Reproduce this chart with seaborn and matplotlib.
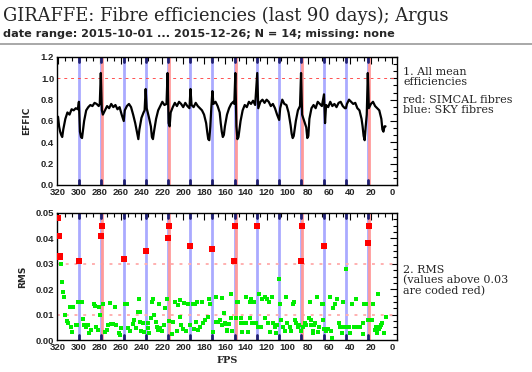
import matplotlib
matplotlib.use("Agg")
import numpy as np
import pandas as pd
import matplotlib.pyplot as plt
import seaborn as sns
from matplotlib.ticker import MultipleLocator, AutoMinorLocator
from matplotlib.lines import Line2D

# fibre positions of sky and simcal fibres
sky_fps = [300, 279, 257, 236, 215, 193, 172, 150, 129, 108, 87, 65, 44, 23]
simcal_fps = [278, 214, 149, 86, 22]

# mean efficiency per fibre position
effic_fps = [320, 319, 318, 317, 316, 315, 313, 311, 309, 307, 305, 303, 301, 300, 299, 298, 297,
             295, 293, 291, 289, 287, 285, 283, 281, 280, 279, 278, 277, 275, 273, 271, 269, 267,
             265, 263, 261, 259, 257, 256, 254, 252, 250, 248, 246, 244, 243, 242, 240, 238, 237,
             236, 235, 233, 231, 230, 229, 228, 226, 224, 222, 220, 218, 216, 215, 214, 213, 212,
             210, 208, 206, 204, 202, 200, 198, 196, 194, 193, 192, 190, 188, 186, 184, 182, 180,
             178, 177, 176, 175, 174, 173, 172, 171, 169, 167, 165, 164, 163, 162, 161, 160, 158,
             156, 154, 152, 151, 150, 149, 148, 147, 145, 143, 141, 139, 137, 135, 133, 131, 129,
             128, 126, 124, 122, 120, 118, 116, 114, 112, 110, 108, 107, 105, 103, 101, 99, 97,
             96, 95, 94, 92, 90, 88, 87, 86, 84, 82, 81, 80, 79, 77, 75, 73, 71, 69, 67, 65, 64,
             63, 61, 59, 57, 55, 53, 51, 49, 47, 45, 44, 43, 41, 39, 37, 35, 33, 31, 29, 28, 27,
             26, 25, 24, 23, 22, 20, 18, 16, 14, 12, 10, 9, 8, 7, 6]
effic_vals = [0.64, 0.55, 0.50, 0.47, 0.45, 0.52, 0.62, 0.68, 0.66, 0.71, 0.70, 0.72, 0.71, 0.78,
              0.50, 0.45, 0.44, 0.60, 0.70, 0.73, 0.75, 0.74, 0.77, 0.76, 0.74, 0.76, 1.05, 0.70,
              0.66, 0.70, 0.74, 0.72, 0.76, 0.73, 0.75, 0.71, 0.73, 0.66, 0.60, 0.70, 0.74, 0.76,
              0.73, 0.66, 0.58, 0.48, 0.43, 0.52, 0.63, 0.68, 0.70, 0.90, 0.72, 0.64, 0.55, 0.45,
              0.43, 0.50, 0.62, 0.70, 0.74, 0.78, 0.75, 0.76, 1.05, 0.58, 0.55, 0.68, 0.73, 0.77,
              0.74, 0.78, 0.76, 0.73, 0.77, 0.74, 0.72, 0.90, 0.75, 0.73, 0.77, 0.74, 0.72, 0.70,
              0.66, 0.58, 0.50, 0.43, 0.42, 0.55, 0.73, 0.88, 0.76, 0.78, 0.74, 0.68, 0.58, 0.50,
              0.45, 0.47, 0.55, 0.66, 0.72, 0.76, 0.78, 0.76, 1.05, 0.55, 0.43, 0.45, 0.60, 0.70,
              0.75, 0.73, 0.78, 0.76, 0.79, 0.75, 1.05, 0.72, 0.78, 0.80, 0.77, 0.80, 0.78, 0.74,
              0.76, 0.72, 0.66, 0.61, 0.72, 0.80, 0.76, 0.75, 0.68, 0.56, 0.48, 0.44, 0.46, 0.60,
              0.70, 0.74, 1.05, 0.66, 0.60, 0.54, 0.44, 0.46, 0.62, 0.72, 0.75, 0.72, 0.78, 0.76,
              0.74, 0.85, 0.58, 0.75, 0.73, 0.78, 0.74, 0.76, 0.73, 0.77, 0.78, 0.74, 0.72, 0.72,
              0.76, 0.80, 0.78, 0.76, 0.77, 0.72, 0.70, 0.62, 0.55, 0.46, 0.42, 0.55, 0.66, 1.05,
              0.72, 0.76, 0.78, 0.74, 0.72, 0.70, 0.62, 0.52, 0.50, 0.55, 0.55]

# rms per fibre position
rms_fps = [320, 319, 318, 318, 317, 300, 279, 278, 257, 236, 215, 214, 193, 172, 151, 150, 129,
           87, 86, 65, 23, 22,
           316, 315, 314, 309, 306, 313, 311, 310, 308, 307, 303, 302, 301, 297, 296, 295, 293,
           291, 290, 288, 286, 285, 284, 282, 281, 280, 277, 275, 273, 272, 270, 269, 267, 265,
           262, 264, 260, 261, 256, 254, 253, 251, 248, 247, 245, 242, 243, 241, 240,
           241, 239, 238, 234, 234, 233, 230, 229, 228, 231, 226, 225, 224, 223, 222, 220, 218,
           217, 216, 214, 211, 210, 208, 206, 205, 203, 202, 203, 199, 200, 197, 195, 193, 191,
           190, 189, 187, 188, 186, 184, 182, 181, 179, 176, 175, 174, 171, 169, 169, 167, 165,
           163, 163, 161, 160, 158,
           154, 159, 158, 156, 154, 157, 153, 148, 147, 149, 145, 145, 144, 143, 140, 140, 138,
           136, 136, 135, 134, 132, 130, 127, 128, 125, 124, 122, 122, 120, 118, 119, 117, 115,
           114, 112, 111, 110, 108, 107, 106, 104, 102, 101, 100, 98, 97, 95, 94, 93, 92, 90,
           89, 87, 85, 83, 82, 79, 77, 76,
           72, 78, 67, 66, 77, 75, 76, 74, 71, 70, 66, 65, 63, 61, 59, 58, 57, 56, 54, 53, 51,
           50, 48, 47, 48, 44, 43, 41, 40, 38, 36, 34, 35, 31, 30, 28, 28, 27, 25, 23, 21, 20,
           19, 18, 16, 15, 14, 13, 12, 11, 10, 9, 7, 6, 44]
rms_vals = [0.048, 0.041, 0.033, 0.0325, 0.030, 0.031, 0.041, 0.045, 0.032, 0.035, 0.040, 0.045,
            0.037, 0.036, 0.031, 0.045, 0.045, 0.031, 0.045, 0.037, 0.038, 0.045,
            0.023, 0.019, 0.017, 0.013, 0.013, 0.010, 0.0076, 0.0068, 0.005, 0.0033, 0.0059,
            0.0059, 0.0148, 0.0148, 0.0083, 0.0059, 0.0052, 0.0059, 0.0026, 0.004, 0.0142,
            0.0134, 0.0052, 0.004, 0.013, 0.010, 0.014, 0.003, 0.004, 0.0059, 0.0144, 0.0063,
            0.0063, 0.013, 0.0026, 0.0059, 0.0046, 0.0018, 0.014, 0.014, 0.0049, 0.0035, 0.0062,
            0.0079, 0.0049, 0.016, 0.011, 0.007, 0.0035,
            0.011, 0.0066, 0.0033, 0.0066, 0.0046, 0.0029, 0.0148, 0.016, 0.010, 0.0085, 0.0072,
            0.005, 0.004, 0.014, 0.0046, 0.0035, 0.0059, 0.0127, 0.016, 0.0076, 0.0022, 0.007,
            0.0148, 0.0035, 0.0138, 0.0157, 0.0059, 0.0092, 0.0147, 0.0042, 0.0035, 0.014,
            0.0059, 0.014, 0.0042, 0.014, 0.015, 0.0072, 0.004, 0.005, 0.0148, 0.0066, 0.0079,
            0.0092, 0.016, 0.014, 0.0033, 0.017, 0.0072, 0.007, 0.0079, 0.0167, 0.0059, 0.0105,
            0.0066, 0.0035,
            0.018, 0.0062, 0.004, 0.0062, 0.0088, 0.0062, 0.0035, 0.0148, 0.0148, 0.0088, 0.0088,
            0.0066, 0.0033, 0.0068, 0.017, 0.0066, 0.0033, 0.0148, 0.0088, 0.016, 0.0066, 0.0148,
            0.0068, 0.018, 0.005, 0.005, 0.016, 0.017, 0.0088, 0.016, 0.0148, 0.0066, 0.0033,
            0.017, 0.0066, 0.005, 0.0029, 0.0059, 0.0239, 0.014, 0.0079, 0.005, 0.0035, 0.017,
            0.0066, 0.005, 0.0035, 0.014, 0.0148, 0.0079, 0.0066, 0.005, 0.0059, 0.0035, 0.005,
            0.0068, 0.0059, 0.0088, 0.0059, 0.0029,
            0.017, 0.0148, 0.014, 0.014, 0.0079, 0.0059, 0.0035, 0.0066, 0.0033, 0.005, 0.0079,
            0.0042, 0.0035, 0.0042, 0.017, 0.0035, 0.0009, 0.0127, 0.014, 0.016, 0.0066, 0.005,
            0.0026, 0.0148, 0.005, 0.005, 0.005, 0.005, 0.0026, 0.014, 0.005, 0.016, 0.005,
            0.005, 0.005, 0.0068, 0.0022, 0.014, 0.014, 0.0079, 0.0079, 0.0079, 0.0079, 0.014,
            0.004, 0.005, 0.0026, 0.018, 0.0042, 0.005, 0.0059, 0.0068, 0.0029, 0.0092, 0.028]

effic_df = pd.DataFrame({"FPS": effic_fps, "EFFIC": effic_vals})
rms_df = pd.DataFrame({"FPS": rms_fps, "RMS": rms_vals})
rms_df["high"] = rms_df["RMS"] > 0.03

sns.set_style("white")
plt.rcParams["font.family"] = ["DejaVu Sans"]
tick_font = {"family": "Liberation Sans", "weight": "bold", "size": 6.8}

fig = plt.figure(figsize=(5.32, 3.72), dpi=100)
ax1 = fig.add_axes([57 / 532, 1 - 185 / 372, 340 / 532, 128 / 372])
ax2 = fig.add_axes([57 / 532, 1 - 340 / 372, 340 / 532, 127 / 372])


def fibre_lines(ax):
    for f in sky_fps:
        ax.axvline(f, color="#aaaaff", lw=2, zorder=1)
        ax.axvline(f, ymin=0, ymax=0.04, color="#202070", lw=2, zorder=1.5)
        ax.axvline(f, ymin=0.96, ymax=1, color="#202070", lw=2, zorder=1.5)
    for f in simcal_fps:
        ax.axvline(f, color="#ff9a9a", lw=2, zorder=1.2)


def style_axis(ax, ymajor, yminor):
    ax.set_xlim(321, -5)
    ax.xaxis.set_major_locator(MultipleLocator(20))
    ax.xaxis.set_minor_locator(AutoMinorLocator(3))
    ax.yaxis.set_major_locator(MultipleLocator(ymajor))
    ax.yaxis.set_minor_locator(AutoMinorLocator(yminor))
    ax.tick_params(which="both", direction="in", top=True, right=True, width=0.8,
                   color="black", pad=2)
    ax.tick_params(which="major", length=5)
    ax.tick_params(which="minor", length=3)
    for lab in ax.get_xticklabels() + ax.get_yticklabels():
        lab.set_fontfamily(tick_font["family"])
        lab.set_fontweight(tick_font["weight"])
        lab.set_fontsize(tick_font["size"])
    for sp in ax.spines.values():
        sp.set_linewidth(1)
        sp.set_color("black")


# top panel: mean efficiencies
fibre_lines(ax1)
ax1.axhline(1.0, color="#ff5050", lw=0.7, ls=(0, (3, 4)), zorder=1)
sns.lineplot(data=effic_df, x="FPS", y="EFFIC", ax=ax1, color="black", lw=1.6,
             sort=False, zorder=3)
ax1.set_ylim(0, 1.2)
style_axis(ax1, 0.2, 3)
ax1.set_xlabel("")
ax1.set_ylabel("EFFIC", fontsize=6.5, fontweight="bold", labelpad=7)

# bottom panel: rms
fibre_lines(ax2)
for yl in (0.03, 0.01):
    ax2.axhline(yl, color="#ffb0b0", lw=1.4, ls=(0, (1.5, 3)), zorder=1)
sns.scatterplot(data=rms_df[~rms_df["high"]], x="FPS", y="RMS", ax=ax2, color="#00ee00",
                marker="s", s=5, linewidth=0, zorder=3)
sns.scatterplot(data=rms_df[rms_df["high"]], x="FPS", y="RMS", ax=ax2, color="#ff0000",
                marker="s", s=15, linewidth=0, zorder=4)
ax2.set_ylim(0, 0.05)
style_axis(ax2, 0.01, 4)
ax2.set_xlabel("FPS", fontsize=7, fontweight="bold", family="DejaVu Serif", labelpad=3)
ax2.set_ylabel("RMS", fontsize=6.5, fontweight="bold", labelpad=6)

# header
fig.text(3 / 532, 1 - 21 / 372, "GIRAFFE: Fibre efficiencies (last 90 days); Argus",
         fontsize=12.9, family="DejaVu Serif")
fig.text(3 / 532, 1 - 37 / 372, "date range: 2015-10-01 ... 2015-12-26; N = 14; missing: none",
         fontsize=8.1, fontweight="bold")
fig.add_artist(Line2D([0, 1], [1 - 44 / 372, 1 - 44 / 372], color="#999999", lw=1.2))

# notes on the right
note = {"fontsize": 8, "family": "DejaVu Serif", "linespacing": 1.05, "va": "top"}
fig.text(403 / 532, 1 - 67 / 372, "1. All mean\nefficiencies", **note)
fig.text(403 / 532, 1 - 95 / 372, "red: SIMCAL fibres\nblue: SKY fibres", **note)
fig.text(403 / 532, 1 - 265 / 372, "2. RMS\n(values above 0.03\nare coded red)", **note)

fig.savefig("out.png", dpi=100)
